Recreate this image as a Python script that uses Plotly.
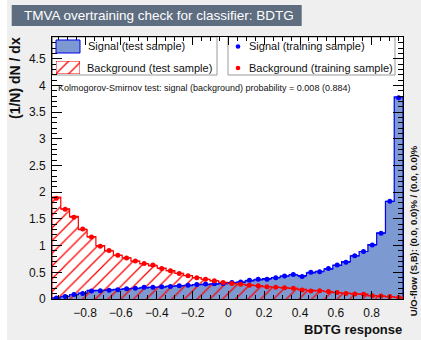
import numpy as np
import plotly.graph_objects as go

# ---- classifier output histograms (40 bins, normalised: (1/N) dN/dx) ----
x_min, x_max = -0.985, 0.975
n_bins = 40

sig_test = [0.02, 0.05, 0.08, 0.11, 0.16, 0.16, 0.17, 0.18, 0.19, 0.20,
            0.21, 0.22, 0.22, 0.24, 0.245, 0.25, 0.27, 0.27, 0.28, 0.29,
            0.30, 0.31, 0.34, 0.36, 0.38, 0.40, 0.43, 0.45, 0.44, 0.49,
            0.52, 0.56, 0.63, 0.70, 0.81, 0.89, 1.02, 1.24, 1.83, 3.79]
sig_train = [0.02, 0.045, 0.085, 0.105, 0.15, 0.155, 0.165, 0.175, 0.19, 0.20,
             0.22, 0.22, 0.23, 0.235, 0.25, 0.26, 0.27, 0.28, 0.285, 0.29,
             0.31, 0.32, 0.35, 0.37, 0.37, 0.40, 0.43, 0.46, 0.42, 0.50,
             0.51, 0.57, 0.635, 0.69, 0.81, 0.89, 1.01, 1.23, 1.83, 3.77]
bkg_test = [1.91, 1.69, 1.55, 1.30, 1.17, 1.00, 0.90, 0.82, 0.77, 0.71,
            0.66, 0.62, 0.58, 0.53, 0.48, 0.44, 0.40, 0.37, 0.34, 0.31,
            0.29, 0.275, 0.26, 0.25, 0.23, 0.22, 0.21, 0.20, 0.18, 0.16,
            0.155, 0.14, 0.12, 0.11, 0.095, 0.09, 0.065, 0.055, 0.04, 0.03]
bkg_train = [1.89, 1.68, 1.53, 1.31, 1.16, 0.99, 0.91, 0.82, 0.77, 0.71,
             0.665, 0.635, 0.57, 0.53, 0.48, 0.435, 0.40, 0.37, 0.34, 0.31,
             0.29, 0.275, 0.26, 0.25, 0.23, 0.22, 0.21, 0.20, 0.17, 0.15,
             0.155, 0.14, 0.12, 0.105, 0.095, 0.09, 0.06, 0.055, 0.045, 0.03]

title_text = "TMVA overtraining check for classifier: BDTG"
ks_text = "Kolmogorov-Smirnov test: signal (background) probability = 0.008 (0.884)"
uoflow_text = "U/O-flow (S,B): (0.0, 0.0)% / (0.0, 0.0)%"
legend_labels = ["Signal (test sample)", "Background (test sample)",
                 "Signal (training sample)", "Background (training sample)"]

# colours
SIG_FILL = "#7d99d1"
SIG_LINE = "#0000ee"
BKG_LINE = "#ff0000"
CANVAS = "#efefef"
FONT = "Liberation Sans, Arial, sans-serif"

edges = np.linspace(x_min, x_max, n_bins + 1)
centers = 0.5 * (edges[:-1] + edges[1:])
half_w = 0.5 * (edges[1] - edges[0])


def step_path(vals):
    xs = [edges[0]] + list(edges[:-1]) + [edges[-1], edges[-1]]
    ys = [0.0] + list(vals) + [vals[-1], 0.0]
    return xs, ys


W, H = 421, 340
L, R, T, B = 52, 18, 37, 41
PW, PH = W - L - R, H - T - B


def px(x):
    return (x - L) / PW


def py(y):
    return (H - B - y) / PH


hatch = dict(shape="/", fgcolor=BKG_LINE, bgcolor="rgba(0,0,0,0)",
             size=9, solidity=0.14, fillmode="replace")

fig = go.Figure()

sx, sy = step_path(sig_test)
fig.add_trace(go.Scatter(x=sx, y=sy, mode="lines", line_shape="hv",
                         line=dict(color=SIG_LINE, width=1.2),
                         fill="tozeroy", fillcolor=SIG_FILL, hoverinfo="skip"))

bx, by = step_path(bkg_test)
fig.add_trace(go.Scatter(x=bx, y=by, mode="lines", line_shape="hv",
                         line=dict(color=BKG_LINE, width=1.2),
                         fill="tozeroy", fillcolor="rgba(0,0,0,0)",
                         fillpattern=hatch, hoverinfo="skip"))

for vals, col in [(sig_train, "#0000ff"), (bkg_train, "#ff0000")]:
    fig.add_trace(go.Scatter(x=centers, y=vals, mode="markers",
                             marker=dict(color=col, size=5),
                             error_x=dict(type="constant", value=half_w,
                                          thickness=1, width=0, color=col)))

# hatched legend swatch on its own small axes
sw_x0, sw_x1, sw_y0, sw_y1 = 56, 80, 61, 74
fig.add_trace(go.Scatter(x=[0, 1, 1, 0, 0], y=[0, 0, 1, 1, 0], mode="lines",
                         line=dict(color=BKG_LINE, width=1), fill="toself",
                         fillcolor="rgba(0,0,0,0)", fillpattern=hatch,
                         xaxis="x2", yaxis="y2", hoverinfo="skip"))

axis_common = dict(showline=True, linecolor="black", linewidth=1, mirror="ticks",
                   ticks="inside", tickcolor="black", showgrid=False, zeroline=False,
                   tickfont=dict(family=FONT, size=12, color="#111"))

fig.update_layout(
    width=W, height=H, autosize=False,
    margin=dict(l=L, r=R, t=T, b=B),
    paper_bgcolor=CANVAS, plot_bgcolor="white",
    showlegend=False,
    xaxis=dict(range=[x_min, x_max], dtick=0.2, tick0=0, ticklen=8,
               minor=dict(ticks="inside", dtick=0.05, tick0=0, ticklen=4, tickcolor="black"),
               ticklabelstandoff=3, **axis_common),
    yaxis=dict(range=[0, 4.91], dtick=0.5, tick0=0, ticklen=10,
               minor=dict(ticks="inside", dtick=0.1, tick0=0, ticklen=5, tickcolor="black"),
               ticklabelstandoff=3, **axis_common),
    xaxis2=dict(domain=[px(sw_x0), px(sw_x1)], range=[0, 1], visible=False,
                anchor="y2", fixedrange=True),
    yaxis2=dict(domain=[py(sw_y1), py(sw_y0)], range=[0, 1], visible=False,
                anchor="x2", fixedrange=True),
)

shapes = [
    # white strip at the left edge of the canvas
    dict(type="rect", xref="paper", yref="paper", x0=px(0), x1=px(7), y0=py(H), y1=py(0),
         fillcolor="white", line=dict(width=0), layer="below"),
    # title box
    dict(type="rect", xref="paper", yref="paper", x0=px(11.7), x1=px(301.7),
         y0=py(26), y1=py(5), fillcolor="#5e6d7f", line=dict(width=0)),
    # legend boxes
    dict(type="rect", xref="paper", yref="paper", x0=px(52.5), x1=px(217),
         y0=py(75), y1=py(37), fillcolor="white", line=dict(color="#9a9a9a", width=1),
         layer="below"),
    dict(type="rect", xref="paper", yref="paper", x0=px(228), x1=px(395),
         y0=py(75), y1=py(37), fillcolor="white", line=dict(color="#9a9a9a", width=1),
         layer="below"),
    # signal swatch
    dict(type="rect", xref="paper", yref="paper", x0=px(56), x1=px(80),
         y0=py(53), y1=py(40), fillcolor=SIG_FILL, line=dict(color=SIG_LINE, width=1)),
    # training markers in legend
    dict(type="circle", xref="paper", yref="paper", x0=px(235.7), x1=px(240.3),
         y0=py(48.8), y1=py(44.2), fillcolor="#0000ff", line=dict(width=0)),
    dict(type="circle", xref="paper", yref="paper", x0=px(235.7), x1=px(240.3),
         y0=py(70.3), y1=py(65.7), fillcolor="#ff0000", line=dict(width=0)),
]
fig.update_layout(shapes=shapes)

ann = []


def text(t, x, y, size, xanchor="left", yanchor="middle", color="#111", angle=0):
    ann.append(dict(text=t, x=px(x), y=py(y), xref="paper", yref="paper",
                    xanchor=xanchor, yanchor=yanchor, showarrow=False,
                    textangle=angle, font=dict(family=FONT, size=size, color=color)))


text(title_text, 21.5, 15.5, 13.5, color="white")
text(legend_labels[0], 85.5, 46.5, 11)
text(legend_labels[1], 85, 68, 11)
text(legend_labels[2], 246.5, 46.5, 11)
text(legend_labels[3], 246.5, 68, 11)
text(ks_text, 55.5, 88.3, 9)
text("<b>(1/N) dN / dx</b>", 15, 35, 14, xanchor="center", yanchor="top", angle=-90)
text("<b>BDTG response</b>", 403.5, 329, 13, xanchor="right")
text("<b>" + uoflow_text + "</b>", 413.7, 318, 9.5, xanchor="center", yanchor="bottom", angle=-90)
fig.update_layout(annotations=ann)

fig.write_html("out.html")
